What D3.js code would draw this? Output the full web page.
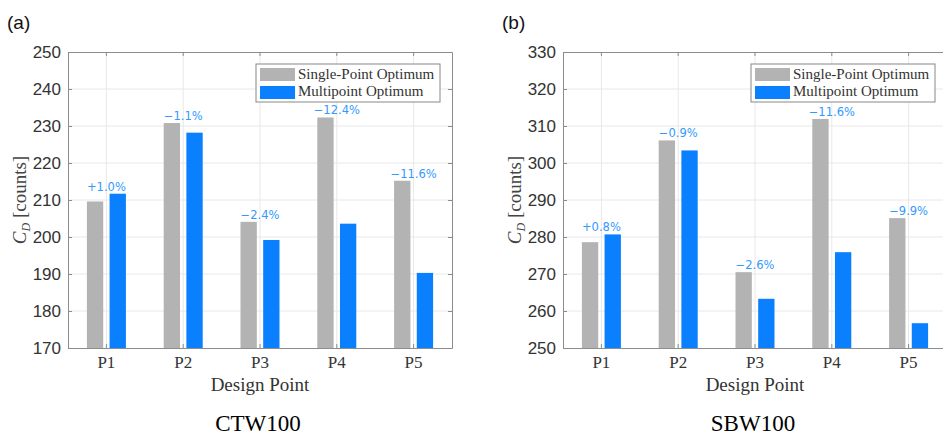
<!DOCTYPE html>
<html>
<head>
<meta charset="utf-8">
<script src="https://cdn.jsdelivr.net/npm/d3@7"></script>
<style>
  body { margin: 0; background: #fff; }
  svg { display: block; }
</style>
</head>
<body>
<svg id="chart"></svg>
<script>
const width = 943
const height = 438

const points = ["P1", "P2", "P3", "P4", "P5"]
const seriesNames = ["Single-Point Optimum", "Multipoint Optimum"]

// CTW100
const ctwSingle = [209.6, 230.8, 204.1, 232.3, 215.2]
const ctwMulti = [211.7, 228.2, 199.2, 203.6, 190.3]
const ctwLabels = ["+1.0%", "\u22121.1%", "\u22122.4%", "\u221212.4%", "\u221211.6%"]
const ctwTicks = [170, 180, 190, 200, 210, 220, 230, 240, 250]

// SBW100
const sbwSingle = [278.6, 306.1, 270.5, 311.9, 285.1]
const sbwMulti = [280.7, 303.4, 263.3, 275.9, 256.7]
const sbwLabels = ["+0.8%", "\u22120.9%", "\u22122.6%", "\u221211.6%", "\u22129.9%"]
const sbwTicks = [250, 260, 270, 280, 290, 300, 310, 320, 330]

const grey = "#b3b3b3"
const blue = "#0a80ff"
const labelBlue = "#3399ff"
const axisColor = "#8c8c8c"

const svg = d3.select("#chart")
  .attr("width", width)
  .attr("height", height)

function panel(x0, letter, title, single, multi, labels, ticks) {
  const top = 52, bottom = 348, w = 384
  const g = svg.append("g")

  const x = d3.scaleBand().domain(points).range([x0, x0 + w]).paddingInner(0).paddingOuter(0)
  const sub = d3.scaleBand().domain(seriesNames).range([-11 - 8.5, 11 + 8.5]).paddingInner(0.28)
  const y = d3.scaleLinear().domain([ticks[0], ticks[ticks.length - 1]]).range([bottom, top])

  // grid
  g.append("g").selectAll("line.gy").data(ticks.slice(1, -1)).enter().append("line")
    .attr("x1", x0).attr("x2", x0 + w)
    .attr("y1", d => y(d)).attr("y2", d => y(d))
    .style("stroke", "#e8e8e8").style("stroke-width", 1)
  g.append("g").selectAll("line.gx").data(points).enter().append("line")
    .attr("x1", d => x(d) + x.bandwidth() / 2).attr("x2", d => x(d) + x.bandwidth() / 2)
    .attr("y1", top).attr("y2", bottom)
    .style("stroke", "#e8e8e8").style("stroke-width", 1)

  // bars
  const rows = points.map((p, i) => ({p: p, vals: [single[i], multi[i]], label: labels[i]}))
  const grp = g.append("g").selectAll("g").data(rows).enter().append("g")
    .attr("transform", d => "translate(" + (x(d.p) + x.bandwidth() / 2) + ",0)")
  grp.selectAll("rect").data(d => d.vals.map((v, j) => ({name: seriesNames[j], v: v}))).enter()
    .append("rect")
    .attr("x", d => sub(d.name))
    .attr("width", sub.bandwidth())
    .attr("y", d => y(d.v))
    .attr("height", d => bottom - y(d.v))
    .attr("fill", (d, j) => j == 0 ? grey : blue)
  grp.append("text")
    .attr("x", 0)
    .attr("y", d => y(Math.max(d.vals[0], d.vals[1])) - 3)
    .attr("text-anchor", "middle")
    .style("font-family", "DejaVu Sans")
    .style("font-size", "11.5px")
    .style("fill", labelBlue)
    .text(d => d.label)

  // axes
  const yAxis = d3.axisLeft(y).tickValues(ticks).tickSizeInner(-4).tickSizeOuter(0).tickPadding(7)
  const ya = g.append("g").attr("transform", "translate(" + x0 + ",0)").call(yAxis)
  ya.selectAll("text").style("font-family", "Liberation Sans").style("font-size", "17px").style("fill", "#333")
  g.append("g").attr("transform", "translate(" + (x0 + w) + ",0)")
    .call(d3.axisRight(y).tickValues(ticks).tickSizeInner(-4).tickSizeOuter(0).tickFormat(""))

  const xa = g.append("g").attr("transform", "translate(0," + bottom + ")")
    .call(d3.axisBottom(x).tickSizeInner(-4).tickSizeOuter(0).tickPadding(8))
  xa.selectAll("text").style("font-family", "Liberation Serif").style("font-size", "17px").style("fill", "#333")
  g.append("g").attr("transform", "translate(0," + top + ")")
    .call(d3.axisTop(x).tickSizeInner(-4).tickSizeOuter(0).tickFormat(""))

  g.selectAll(".domain").style("stroke", axisColor)
  g.selectAll(".tick line").style("stroke", axisColor)

  // legend
  const lg = g.append("g").attr("transform", "translate(" + (x0 + 188) + ",64)")
  lg.append("rect").attr("width", 184).attr("height", 38)
    .style("fill", "#fff").style("stroke", "#888").style("stroke-width", 1)
  seriesNames.forEach((n, i) => {
    lg.append("rect").attr("x", 4).attr("y", 4 + i * 18).attr("width", 35).attr("height", 13)
      .attr("fill", i == 0 ? grey : blue)
    lg.append("text").attr("x", 42).attr("y", 15 + i * 17)
      .style("font-family", "Liberation Serif").style("font-size", "15px").style("fill", "#333")
      .text(n)
  })

  // labels
  const cx = x0 + w / 2
  g.append("text").attr("x", cx).attr("y", 391).attr("text-anchor", "middle")
    .style("font-family", "Liberation Serif").style("font-size", "19px").style("fill", "#333")
    .text("Design Point")
  const yl = g.append("text").attr("transform", "translate(" + (x0 - 42) + "," + ((top + bottom) / 2) + ") rotate(-90)")
    .attr("text-anchor", "middle")
    .style("font-family", "Liberation Serif").style("font-size", "19px").style("fill", "#444")
  yl.append("tspan").style("font-style", "italic").text("C")
  yl.append("tspan").style("font-style", "italic").style("font-size", "12px").attr("dy", 4).text("D")
  yl.append("tspan").attr("dy", -4).text(" [counts]")

  svg.append("text").attr("x", x0 - 61).attr("y", 29)
    .style("font-family", "Liberation Sans").style("font-size", "19px").style("fill", "#111")
    .text(letter)
  svg.append("text").attr("x", cx - 2).attr("y", 431).attr("text-anchor", "middle")
    .style("font-family", "Liberation Serif").style("font-size", "23px").style("fill", "#000")
    .text(title)
}

panel(68, "(a)", "CTW100", ctwSingle, ctwMulti, ctwLabels, ctwTicks)
panel(563, "(b)", "SBW100", sbwSingle, sbwMulti, sbwLabels, sbwTicks)
</script>
</body>
</html>
